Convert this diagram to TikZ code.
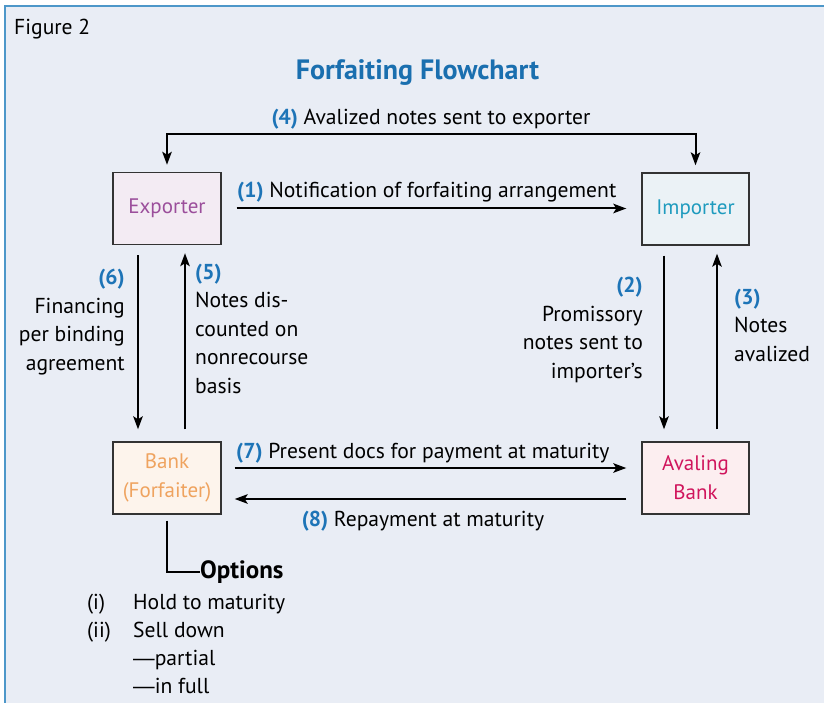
\documentclass[tikz,border=0pt]{standalone}
\usepackage{fontspec}
\setmainfont{PT Sans}
\newfontfamily\dashfont{Liberation Sans}
\usetikzlibrary{arrows.meta}
\definecolor{panel}{HTML}{E9EDF5}
\definecolor{frameblue}{HTML}{4D97C9}
\definecolor{titleblue}{HTML}{1A6FAF}
\definecolor{stepblue}{HTML}{1D74B7}
\definecolor{boxline}{HTML}{333333}
\definecolor{expfill}{HTML}{F3EBF3}
\definecolor{exptext}{HTML}{9B4E9B}
\definecolor{impfill}{HTML}{EBF2F6}
\definecolor{imptext}{HTML}{1E9BBE}
\definecolor{bankfill}{HTML}{FDF4EC}
\definecolor{banktext}{HTML}{EFA35F}
\definecolor{avalfill}{HTML}{FCEEF0}
\definecolor{avaltext}{HTML}{D0145C}
\newcommand{\stepno}[1]{{\bfseries\color{stepblue}#1}}
\newcommand{\emrule}{{\dashfont —}}
\tikzset{
  party/.style={draw=boxline, line width=1.4pt, minimum width=108pt,
    minimum height=72pt, inner sep=0pt, align=center,
    font=\fontsize{21}{29}\selectfont},
  flow/.style={line width=2pt, -{Stealth[length=13pt,width=9.5pt,inset=3pt]}},
  twoway/.style={line width=2pt, {Stealth[length=13pt,width=9.5pt,inset=3pt]}-{Stealth[length=13pt,width=9.5pt,inset=3pt]}},
  lbl/.style={inner sep=0pt, font=\fontsize{21.6}{28.5}\selectfont},
}
\begin{document}
\begin{tikzpicture}[x=1pt,y=-1pt]
\useasboundingbox (0,0) rectangle (824,703);
% panel and its frame
\fill[panel] (5,6) rectangle (824,703);
\draw[frameblue, line width=2.2pt] (5,703) -- (5,6) -- (824,6);

\node[lbl, anchor=base west] (fig) at (14,35) {Figure 2};
\node[inner sep=0pt, anchor=base, font=\fontsize{28}{30}\selectfont\bfseries, text=titleblue]
  (title) at (417.5,80) {Forfaiting Flowchart};

% parties
\node[party, fill=expfill, text=exptext] (exp) at (167,208.5) {Exporter};
\node[party, fill=impfill, text=imptext, minimum width=107pt] (imp) at (695.5,209) {Importer};
\node[party, fill=bankfill, text=banktext] (bank) at (167,478) {Bank\\(Forfaiter)};
\node[party, fill=avalfill, text=avaltext, minimum width=107pt] (aval) at (695.5,478) {Avaling\\Bank};

% (4) notes back to the exporter
\coordinate (topbar) at (431,134);
\draw[twoway] ([yshift=7pt]exp.north) |- (topbar) -| ([yshift=7pt]imp.north);
\node[lbl, anchor=base] (l4) at (431,125) {\stepno{(4)} Avalized notes sent to exporter};

% (1) notification
\draw[flow] ([xshift=15pt]exp.east) -- ([xshift=-15pt]exp.east -| imp.west);
\node[lbl, anchor=base west] (l1) at (237,198) {\stepno{(1)} Notification of forfaiting arrangement};

% (6) and (5) between exporter and bank
\draw[flow] ([xshift=-29pt,yshift=-10pt]exp.south) -- ([xshift=-29pt,yshift=12pt]bank.north);
\draw[flow] ([xshift=18pt,yshift=12pt]bank.north) -- ([xshift=18pt,yshift=-8pt]exp.south);
\node[lbl, anchor=base east, align=right] (l6) at (125,370)
  {\stepno{(6)}\\Financing\\per binding\\agreement};
\node[lbl, anchor=base west, align=left] (l5) at (195,393)
  {\stepno{(5)}\\Notes dis-\\counted on\\nonrecourse\\basis};

% (2) and (3) between importer and avaling bank
\draw[flow] ([xshift=-31.5pt,yshift=-10pt]imp.south) -- ([xshift=-31.5pt,yshift=12pt]aval.north);
\draw[flow] ([xshift=21.5pt,yshift=12pt]aval.north) -- ([xshift=21.5pt,yshift=-8pt]imp.south);
\node[lbl, anchor=base east, align=right] (l2) at (643,378)
  {\stepno{(2)}\\Promissory\\notes sent to\\importer’s};
\node[lbl, anchor=base west, align=left] (l3) at (734,361)
  {\stepno{(3)}\\Notes\\avalized};

% (7) and (8) between bank and avaling bank
\draw[flow] ([xshift=13pt,yshift=10pt]bank.east) -- ([xshift=-15pt,yshift=10pt]aval.west);
\draw[flow] ([xshift=-15pt,yshift=-21pt]aval.west) -- ([xshift=13pt,yshift=-21pt]bank.east);
\node[lbl, anchor=base west] (l7) at (236,458) {\stepno{(7)} Present docs for payment at maturity};
\node[lbl, anchor=base] (l8) at (423,526) {\stepno{(8)} Repayment at maturity};

% options held by the forfaiter
\coordinate (optcorner) at (200,572);
\draw[line width=2pt] ([yshift=-6pt]bank.south) |- (optcorner);
\node[lbl, anchor=base west, font=\fontsize{25}{28}\selectfont\bfseries] (opt) at (200,578) {Options};
\node[lbl, anchor=base west] (i1) at (87,609) {(i)};
\node[lbl, anchor=base west] (t1) at (133,609) {Hold to maturity};
\node[lbl, anchor=base west] (i2) at (87,637) {(ii)};
\node[lbl, anchor=base west] (t2) at (133,637) {Sell down};
\node[lbl, anchor=base west] (t3) at (133,665) {\emrule partial};
\node[lbl, anchor=base west] (t4) at (133,693) {\emrule in full};
\end{tikzpicture}
\end{document}
